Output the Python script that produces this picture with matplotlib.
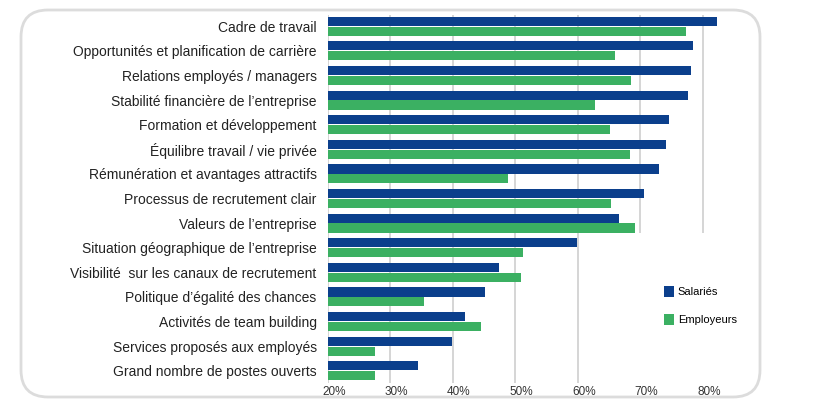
import matplotlib.pyplot as plt
from matplotlib.patches import FancyBboxPatch, Rectangle, Patch
from matplotlib.transforms import ScaledTranslation

categories = [
    "Cadre de travail",
    "Opportunités et planification de carrière",
    "Relations employés / managers",
    "Stabilité financière de l\u2019entreprise",
    "Formation et développement",
    "Équilibre travail / vie privée",
    "Rémunération et avantages attractifs",
    "Processus de recrutement clair",
    "Valeurs de l\u2019entreprise",
    "Situation géographique de l\u2019entreprise",
    "Visibilité  sur les canaux de recrutement",
    "Politique d\u2019égalité des chances",
    "Activités de team building",
    "Services proposés aux employés",
    "Grand nombre de postes ouverts",
]
salaries = [82.3, 78.4, 78.1, 77.6, 74.5, 74.1, 72.9, 70.6, 66.6, 59.9, 47.4, 45.1, 42.0, 39.9, 34.5]
employeurs = [77.3, 66.0, 68.5, 62.7, 65.1, 68.4, 48.9, 65.3, 69.2, 51.2, 50.9, 35.4, 44.5, 27.5, 27.6]
xticks = [20, 30, 40, 50, 60, 70, 80]
xtick_labels = ["20%", "30%", "40%", "50%", "60%", "70%", "80%"]

blue = "#0b3f8c"
green = "#3bb062"

plt.rcParams['font.family'] = ['Liberation Sans', 'DejaVu Sans']

fig = plt.figure(figsize=(8.32, 4.13), dpi=100)
ax = fig.add_axes([0.394, 0.073, 0.52, 0.891])

# rounded frame around the chart (inches)
frame = FancyBboxPatch((0.21, 0.16), 7.39, 3.87, boxstyle="round,pad=0,rounding_size=0.27",
                       transform=fig.dpi_scale_trans, fill=False, edgecolor="#dcdcdc", lw=2)
fig.patches.append(frame)

y = list(range(len(categories)))
h = 0.37
ax.barh([i - 0.2 for i in y], salaries, height=h, left=0, color=blue, zorder=3)
ax.barh([i + 0.2 for i in y], employeurs, height=h, left=0, color=green, zorder=3)

ax.set_xlim(20, 89.2)
ax.set_ylim(14.49, -0.46)
ax.set_xticks(xticks)
ax.set_xticklabels(xtick_labels, fontsize=8.5, color="#333333")
ax.set_yticks(y)
ax.set_yticklabels(categories, fontsize=10, color="#222222")
ax.tick_params(length=0, pad=8)
ax.tick_params(axis='x', pad=2)
shift = ScaledTranslation(0.06, 0, fig.dpi_scale_trans)
for lab in ax.get_xticklabels():
    lab.set_transform(lab.get_transform() + shift)
for s in ax.spines.values():
    s.set_visible(False)
ax.xaxis.grid(True, color="#d2d2d2", lw=1.3, zorder=0)
ax.set_axisbelow(True)

# white area behind the legend hides the grid there
ax.add_patch(Rectangle((65, 8.4), 30, 7, facecolor="white", edgecolor="none", zorder=1))

handles = [Patch(facecolor=blue), Patch(facecolor=green)]
leg = ax.legend(handles, ["Salariés", "Employeurs"], loc="upper left", bbox_to_anchor=(0.755, 0.29),
                frameon=False, fontsize=8, handlelength=0.9, handleheight=1.1,
                handletextpad=0.3, labelspacing=1.5)

fig.savefig("out.png", dpi=100)
